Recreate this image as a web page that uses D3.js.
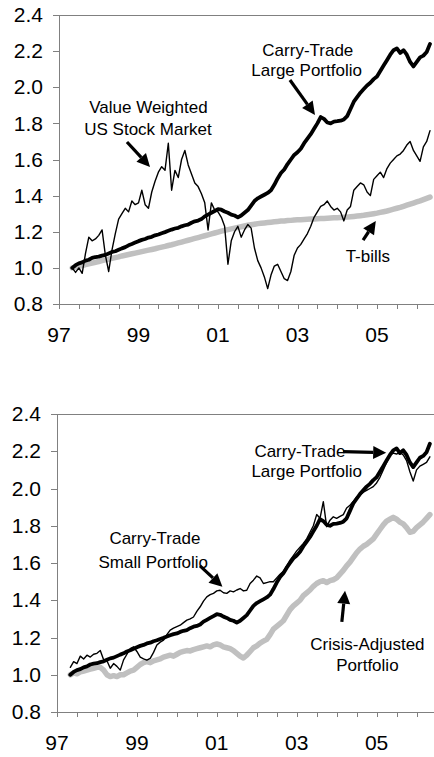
<!DOCTYPE html>
<html>
<head>
<meta charset="utf-8">
<script src="https://cdn.jsdelivr.net/npm/d3@7"></script>
<style>
  body { margin: 0; background: #fff; }
  svg { display: block; font-family: "Liberation Sans", Arial, sans-serif; }
  .axis path, .axis line { stroke: #808080; shape-rendering: crispEdges; }
  .axis text { fill: #000; font-size: 21px; }
  .note { font-size: 17px; fill: #000; }
</style>
</head>
<body>
<svg id="fig" width="434" height="757"></svg>
<script>
// monthly index values, first point is May 1997
const startYear = 1997 + 4 / 12;

const tBills = [
  1.000, 1.004, 1.009, 1.013, 1.018, 1.022, 1.026, 1.031,
  1.035, 1.040, 1.044, 1.048, 1.053, 1.057, 1.061, 1.066, 1.070, 1.074, 1.078, 1.082,
  1.086, 1.090, 1.094, 1.098, 1.102, 1.106, 1.111, 1.115, 1.119, 1.124, 1.128, 1.133,
  1.138, 1.143, 1.148, 1.153, 1.158, 1.163, 1.168, 1.173, 1.178, 1.183, 1.188, 1.193,
  1.198, 1.203, 1.208, 1.212, 1.216, 1.220, 1.224, 1.228, 1.232, 1.236, 1.239, 1.242,
  1.245, 1.247, 1.249, 1.251, 1.253, 1.255, 1.257, 1.259, 1.260, 1.262, 1.263, 1.265,
  1.266, 1.267, 1.268, 1.269, 1.270, 1.271, 1.272, 1.273, 1.274, 1.275, 1.276, 1.277,
  1.278, 1.279, 1.280, 1.281, 1.283, 1.285, 1.287, 1.289, 1.291, 1.294, 1.297, 1.300,
  1.303, 1.307, 1.311, 1.315, 1.320, 1.325, 1.330, 1.335, 1.341, 1.347, 1.353, 1.359,
  1.365, 1.371, 1.378, 1.385, 1.392
];

const carryLarge = [
  1.000, 1.015, 1.025, 1.030, 1.040, 1.045, 1.055, 1.060,
  1.062, 1.068, 1.072, 1.080, 1.088, 1.092, 1.100, 1.108, 1.115, 1.125, 1.132, 1.140,
  1.148, 1.155, 1.160, 1.168, 1.172, 1.180, 1.185, 1.192, 1.198, 1.205, 1.212, 1.218,
  1.222, 1.230, 1.236, 1.240, 1.250, 1.258, 1.262, 1.270, 1.285, 1.295, 1.305, 1.315,
  1.325, 1.322, 1.312, 1.305, 1.295, 1.290, 1.280, 1.290, 1.305, 1.320, 1.345, 1.370,
  1.385, 1.395, 1.405, 1.415, 1.430, 1.460, 1.495, 1.525, 1.545, 1.575, 1.600, 1.625,
  1.640, 1.660, 1.690, 1.715, 1.740, 1.770, 1.800, 1.835, 1.825, 1.805, 1.800, 1.810,
  1.812, 1.815, 1.822, 1.840, 1.880, 1.920, 1.945, 1.970, 1.990, 2.010, 2.025, 2.045,
  2.060, 2.090, 2.120, 2.150, 2.180, 2.205, 2.215, 2.190, 2.205, 2.180, 2.140, 2.115,
  2.140, 2.165, 2.175, 2.195, 2.240
];

const usStocks = [
  1.00, 0.975, 1.00, 0.97, 1.08, 1.17, 1.15, 1.16,
  1.18, 1.21, 1.07, 0.98, 1.10, 1.19, 1.27, 1.30, 1.33, 1.31, 1.37, 1.35,
  1.36, 1.43, 1.35, 1.33, 1.42, 1.48, 1.53, 1.56, 1.54, 1.69, 1.43, 1.54,
  1.50, 1.60, 1.65, 1.57, 1.52, 1.47, 1.45, 1.41, 1.36, 1.21, 1.36, 1.32,
  1.31, 1.28, 1.23, 1.02, 1.15, 1.20, 1.23, 1.17, 1.21, 1.24, 1.22, 1.11,
  1.04, 1.00, 0.95, 0.885, 0.96, 1.01, 1.02, 0.98, 0.94, 0.93, 0.98, 1.07,
  1.11, 1.13, 1.16, 1.19, 1.23, 1.28, 1.31, 1.34, 1.35, 1.37, 1.34, 1.32,
  1.33, 1.31, 1.26, 1.32, 1.34, 1.43, 1.45, 1.47, 1.46, 1.42, 1.40, 1.49,
  1.51, 1.53, 1.50, 1.55, 1.58, 1.60, 1.62, 1.63, 1.65, 1.68, 1.70, 1.65,
  1.62, 1.59, 1.67, 1.70, 1.76
];

const carrySmall = [
  1.040, 1.070, 1.060, 1.100, 1.085, 1.105, 1.095, 1.110,
  1.115, 1.130, 1.080, 1.075, 1.035, 1.060, 1.045, 1.025, 1.080, 1.110, 1.140, 1.150,
  1.125, 1.095, 1.085, 1.078, 1.088, 1.120, 1.160, 1.175, 1.186, 1.215, 1.240, 1.250,
  1.258, 1.266, 1.280, 1.293, 1.300, 1.310, 1.340, 1.365, 1.395, 1.418, 1.430, 1.437,
  1.450, 1.454, 1.440, 1.437, 1.450, 1.445, 1.455, 1.463, 1.450, 1.454, 1.490, 1.508,
  1.530, 1.520, 1.490, 1.495, 1.500, 1.499, 1.520, 1.540, 1.555, 1.585, 1.615, 1.640,
  1.665, 1.685, 1.705, 1.730, 1.765, 1.800, 1.860, 1.840, 1.929, 1.795, 1.830, 1.848,
  1.840, 1.850, 1.860, 1.895, 1.910, 1.930, 1.955, 1.965, 1.980, 1.990, 2.000, 2.010,
  2.030, 2.060, 2.100, 2.140, 2.180, 2.190, 2.185, 2.195, 2.180, 2.150, 2.090, 2.040,
  2.100, 2.120, 2.130, 2.140, 2.170
];

const crisisAdjusted = [
  1.000, 1.010, 1.005, 1.015, 1.020, 1.025, 1.030, 1.035,
  1.040, 1.040, 1.025, 1.000, 0.990, 0.995, 0.990, 1.000, 1.000, 1.010, 1.020, 1.025,
  1.040, 1.055, 1.065, 1.070, 1.065, 1.075, 1.080, 1.085, 1.095, 1.100, 1.105, 1.100,
  1.110, 1.120, 1.125, 1.130, 1.128, 1.135, 1.140, 1.145, 1.150, 1.155, 1.150, 1.160,
  1.165, 1.160, 1.150, 1.145, 1.140, 1.130, 1.115, 1.100, 1.090, 1.105, 1.125, 1.145,
  1.155, 1.170, 1.180, 1.190, 1.215, 1.245, 1.260, 1.275, 1.290, 1.320, 1.350, 1.370,
  1.385, 1.400, 1.425, 1.440, 1.455, 1.475, 1.490, 1.500, 1.505, 1.495, 1.505, 1.510,
  1.520, 1.540, 1.560, 1.585, 1.605, 1.630, 1.655, 1.675, 1.690, 1.700, 1.715, 1.730,
  1.755, 1.780, 1.805, 1.825, 1.835, 1.845, 1.835, 1.820, 1.810, 1.790, 1.765, 1.770,
  1.790, 1.805, 1.820, 1.840, 1.860
];

const yTicks = [0.8, 1.0, 1.2, 1.4, 1.6, 1.8, 2.0, 2.2, 2.4];
const labelYears = [1997, 1999, 2001, 2003, 2005];
const yearLabels = ["97", "99", "01", "03", "05"];
const tickYears = d3.range(1997, 2006.6, 0.5);

// line looks
const styles = {
  gray:  { stroke: "#c0c0c0", width: 5.5 },
  thick: { stroke: "#000", width: 3.8 },
  thin:  { stroke: "#000", width: 1.4 }
};

// panel frames in pixels
const panels = [
  {
    left: 59, top: 15, bottom: 304, pxPerYear: 39.75,
    series: [[tBills, "gray"], [carryLarge, "thick"], [usStocks, "thin"]],
    notes: [
      { lines: [["Carry-Trade", 2003.26, 2.173], ["Large Portfolio", 2003.23, 2.062]],
        arrow: [[2002.81, 2.040], [2003.44, 1.847]] },
      { lines: [["Value Weighted", 1999.25, 1.858], ["US Stock Market", 1999.24, 1.736]],
        arrow: [[1998.71, 1.697], [1999.29, 1.559]] },
      { lines: [["T-bills", 2004.77, 1.033]],
        arrow: [[2004.65, 1.154], [2004.97, 1.260]] }
    ]
  },
  {
    left: 57, top: 414, bottom: 712, pxPerYear: 39.95,
    series: [[crisisAdjusted, "gray"], [carryLarge, "thick"], [carrySmall, "thin"]],
    notes: [
      { lines: [["Carry-Trade", 2003.08, 2.171], ["Large Portfolio", 2003.25, 2.063]],
        arrow: [[2004.16, 2.198], [2005.24, 2.192]] },
      { lines: [["Carry-Trade", 1999.45, 1.703], ["Small Portfolio", 1999.41, 1.574]],
        arrow: [[2000.58, 1.585], [2001.14, 1.472]] },
      { lines: [["Crisis-Adjusted", 2004.77, 1.133], ["Portfolio", 2004.77, 1.020]],
        arrow: [[2004.13, 1.284], [2004.21, 1.451]] }
    ]
  }
];

const svg = d3.select("#fig");
const width = +svg.attr("width");

function drawArrow(g, x1, y1, x2, y2) {
  const len = Math.hypot(x2 - x1, y2 - y1);
  const ux = (x2 - x1) / len, uy = (y2 - y1) / len;
  const headLen = 13, headHalf = 6.5;
  const bx = x2 - ux * headLen, by = y2 - uy * headLen;

  g.append("line")
    .attr("x1", x1).attr("y1", y1)
    .attr("x2", bx).attr("y2", by)
    .attr("stroke", "#000")
    .attr("stroke-width", 3.2);

  g.append("path")
    .attr("d", d3.line()([
      [x2, y2],
      [bx - uy * headHalf, by + ux * headHalf],
      [bx + uy * headHalf, by - ux * headHalf]
    ]) + "Z")
    .attr("fill", "#000");
}

panels.forEach(p => {
  const g = svg.append("g");

  const x = d3.scaleLinear()
    .domain([1997, 2007])
    .range([p.left, p.left + p.pxPerYear * 10]);
  const y = d3.scaleLinear()
    .domain([0.8, 2.4])
    .range([p.bottom, p.top]);

  // top border of the plot area
  g.append("line")
    .attr("x1", p.left).attr("x2", width)
    .attr("y1", y(2.4)).attr("y2", y(2.4))
    .attr("stroke", "#808080")
    .attr("shape-rendering", "crispEdges");

  // series
  const line = d3.line()
    .x((d, i) => x(startYear + i / 12))
    .y(d => y(d));

  p.series.forEach(([values, look]) => {
    g.append("path")
      .datum(values)
      .attr("d", line)
      .attr("fill", "none")
      .attr("stroke", styles[look].stroke)
      .attr("stroke-width", styles[look].width)
      .attr("stroke-linejoin", "round")
      .attr("stroke-linecap", "round");
  });

  // axes
  g.append("g")
    .attr("class", "axis")
    .attr("transform", `translate(${p.left},0)`)
    .call(d3.axisLeft(y)
      .tickValues(yTicks)
      .tickFormat(d3.format(".1f"))
      .tickSize(6)
      .tickSizeOuter(0)
      .tickPadding(10));

  const xAxis = g.append("g")
    .attr("class", "axis")
    .attr("transform", `translate(0,${p.bottom})`)
    .call(d3.axisBottom(x)
      .tickValues(tickYears)
      .tickFormat("")
      .tickSize(5)
      .tickSizeOuter(0));
  xAxis.select(".domain").attr("d", `M${p.left},0.5H${width}`);

  g.selectAll(".year-label")
    .data(labelYears)
    .join("text")
    .attr("class", "year-label")
    .attr("x", d => x(d))
    .attr("y", p.bottom + 38)
    .attr("text-anchor", "middle")
    .attr("font-size", 21)
    .text((d, i) => yearLabels[i]);

  // annotations
  p.notes.forEach(note => {
    note.lines.forEach(([text, t, v]) => {
      g.append("text")
        .attr("class", "note")
        .attr("x", x(t))
        .attr("y", y(v))
        .attr("text-anchor", "middle")
        .text(text);
    });
    const [[t1, v1], [t2, v2]] = note.arrow;
    drawArrow(g, x(t1), y(v1), x(t2), y(v2));
  });
});
</script>
</body>
</html>
